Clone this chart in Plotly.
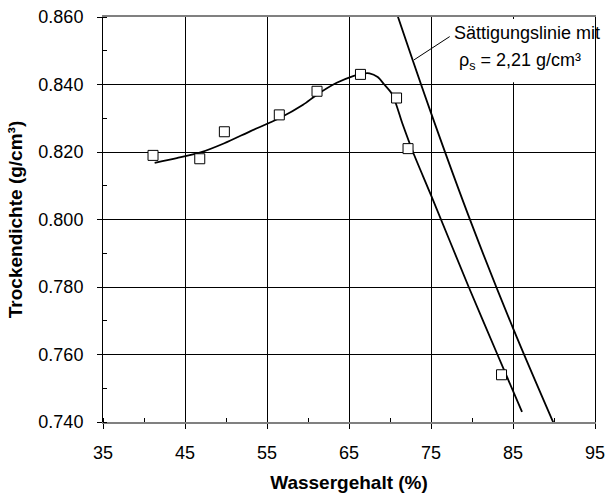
import plotly.graph_objects as go

# measured points
w_meas = [41.1, 46.8, 49.8, 56.5, 61.1, 66.4, 70.8, 72.2, 83.6]
rho_meas = [0.819, 0.818, 0.826, 0.831, 0.838, 0.843, 0.836, 0.821, 0.754]

# fitted Proctor curve
w_fit = [41.3, 44.0, 46.8, 49.8, 53.0, 56.5, 59.4, 61.1, 63.5, 65.5, 66.6, 67.5, 68.5, 69.3, 70.3, 71.5, 72.8, 75.0, 79.6, 83.1, 86.1]
rho_fit = [0.8168, 0.8182, 0.8198, 0.8226, 0.8262, 0.8300, 0.8340, 0.8370, 0.8405, 0.8425, 0.8432, 0.8433, 0.8422, 0.8400, 0.8370, 0.8285, 0.8200, 0.8072, 0.7800, 0.7600, 0.7430]

# saturation line
w_sat = [70.7, 75.0, 80.0, 85.0, 90.3]
rho_sat = [0.8620, 0.8316, 0.7984, 0.7678, 0.7377]

x_title = "Wassergehalt (%)"
y_title = "Trockendichte (g/cm³)"
note_line1 = "Sättigungslinie mit"
note_line2 = "ρ<sub>s</sub> = 2,21 g/cm³"

FONT = "Liberation Sans, Arial, sans-serif"

fig = go.Figure()
fig.add_trace(go.Scatter(x=w_fit, y=rho_fit, mode="lines",
                         line=dict(color="black", width=1.8, shape="spline", smoothing=0.7),
                         hoverinfo="skip", showlegend=False))
fig.add_trace(go.Scatter(x=w_sat, y=rho_sat, mode="lines",
                         line=dict(color="black", width=1.8, shape="spline"),
                         hoverinfo="skip", showlegend=False))
fig.add_trace(go.Scatter(x=w_meas, y=rho_meas, mode="markers",
                         marker=dict(symbol="square", size=10, color="white",
                                     line=dict(color="black", width=1)),
                         showlegend=False))

fig.update_layout(
    width=606, height=494,
    margin=dict(l=103, r=11, t=17, b=72),
    paper_bgcolor="white", plot_bgcolor="white",
    font=dict(family=FONT, color="black", size=18),
    xaxis=dict(range=[35, 95], tick0=35, dtick=10, showgrid=True, gridcolor="black", gridwidth=1,
               zeroline=False, showline=True, linecolor="#808080", linewidth=2, mirror=True,
               automargin=False,
               ticks="outside", ticklen=5, tickcolor="black", tickfont=dict(size=18),
               ticklabelstandoff=8,
               minor=dict(dtick=5, ticks="inside", ticklen=4, tickcolor="black", showgrid=False),
               title=dict(text="<b>" + x_title + "</b>", font=dict(size=19), standoff=14)),
    yaxis=dict(range=[0.740, 0.860], dtick=0.02, tickformat=".3f", showgrid=True, gridcolor="black",
               gridwidth=1, zeroline=False, showline=True, linecolor="black", linewidth=1, mirror=True,
               automargin=False,
               ticks="outside", ticklen=5, tickcolor="black", tickfont=dict(size=18),
               ticklabelstandoff=10,
               minor=dict(dtick=0.01, ticks="inside", ticklen=4, tickcolor="black", showgrid=False),
               title=dict(text="<b>" + y_title + "</b>", font=dict(size=19), standoff=10)),
    shapes=[
        # white box behind the note
        dict(type="rect", xref="x", yref="y", x0=77.44, x1=95.7, y0=0.8407, y1=0.8594,
             fillcolor="white", line=dict(width=0), layer="above"),
        # leader line
        dict(type="line", xref="x", yref="y", x0=72.93, y0=0.8473, x1=77.28, y1=0.8542,
             line=dict(color="black", width=1), layer="above"),
    ],
)

fig.add_annotation(x=86.71, y=0.85526, xref="x", yref="y", text=note_line1, showarrow=False,
                   font=dict(size=18))
fig.add_annotation(x=85.82, y=0.84667, xref="x", yref="y", text=note_line2, showarrow=False,
                   font=dict(size=18))

fig.write_html("out.html")
